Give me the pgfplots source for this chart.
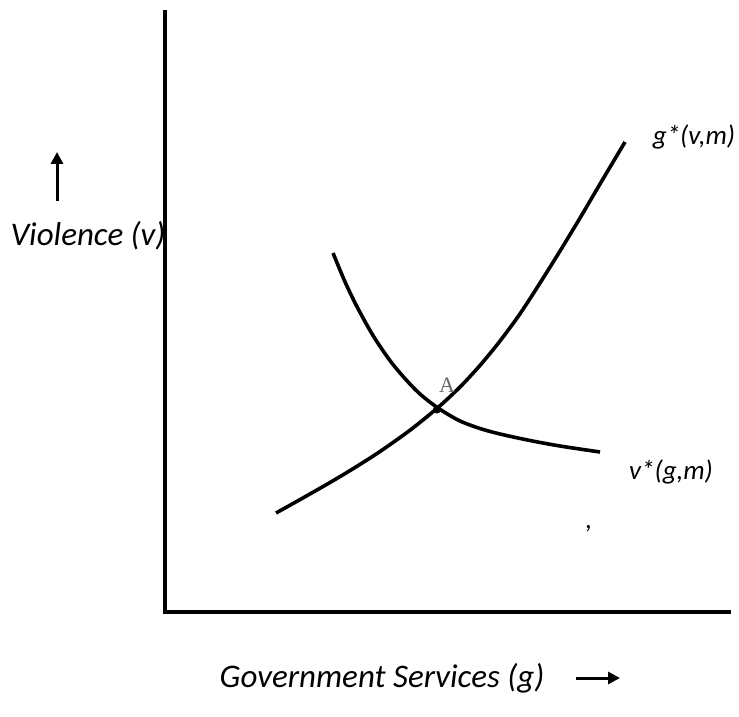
\documentclass[border=0pt]{standalone}
\usepackage{pgfplots}
\pgfplotsset{compat=1.18}
\usepackage{fontspec}
\setmainfont{Carlito}
\usetikzlibrary{arrows.meta}
\newfontfamily\serifA{Liberation Serif}
\begin{document}
\begin{tikzpicture}
\begin{axis}[
  scale only axis, width=739bp, height=717bp,
  xmin=0, xmax=739, ymin=0, ymax=717, y dir=reverse,
  hide axis, clip=false,
]
% axes
\addplot[black, line width=4bp, line join=miter] coordinates {(165,10) (165,612) (731,612)};
% g*(v,m)
\addplot[black, line width=3.6bp, smooth, tension=0.5] coordinates {
(276,513) (300,499.6) (330,482.5) (355,467.5) (380,451.5) (410,430.2) (438,407.5)
(460,387) (480,365.4) (500,341) (520,313.8) (540,283) (560,251) (580,218) (600,184) (625,142)};
% v*(g,m)
\addplot[black, line width=3.6bp, smooth, tension=0.5] coordinates {
(333,253) (345,281.8) (357,306.7) (373,335.5) (390,360.6) (405,378.6) (420,394) (438,408)
(459,420.5) (480,428.5) (500,434) (530,440.5) (560,446) (600,452)};
% point A
\addplot[only marks, mark=*, mark size=3.8bp, black] coordinates {(437,409.5)};
% arrows
\addplot[black, line width=3bp, -{Triangle[length=12bp,width=12bp]}] coordinates {(57,201) (57,152)};
\addplot[black, line width=3bp, -{Triangle[length=12bp,width=12bp]}] coordinates {(576,678) (620,678)};
% labels
\node[font=\fontsize{33bp}{38bp}\selectfont\itshape] at (axis cs:88,236) {Violence (v)};
\node[font=\fontsize{27bp}{32bp}\selectfont\itshape] at (axis cs:694,137) {g*(v,m)};
\node[font=\fontsize{27bp}{32bp}\selectfont\itshape] at (axis cs:671,472) {v*(g,m)};
\node[font=\fontsize{33bp}{38bp}\selectfont\itshape] at (axis cs:382,678) {Government Services (g)};
\node[font=\fontsize{22bp}{26bp}\selectfont\serifA, text=black!60] at (axis cs:447,385) {A};
\node[font=\fontsize{27bp}{32bp}\selectfont\itshape] at (axis cs:589,529) {,};
\end{axis}
\pgfresetboundingbox
\useasboundingbox (0,0) rectangle (739bp,717bp);
\end{tikzpicture}
\end{document}
